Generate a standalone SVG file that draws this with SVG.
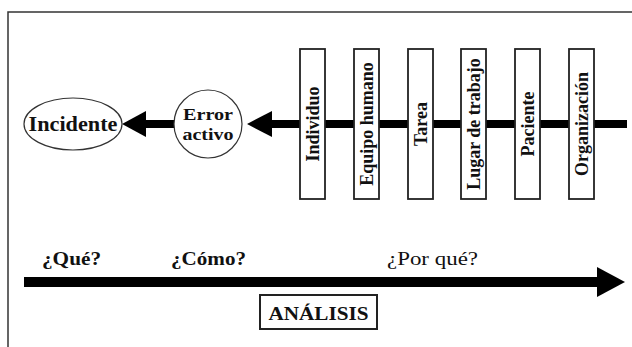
<svg xmlns="http://www.w3.org/2000/svg" width="632" height="347" viewBox="0 0 632 347">
<style>
.t{font-family:"Liberation Serif","Times New Roman",serif;font-weight:bold;fill:#111;}
.r{font-family:"Liberation Serif","Times New Roman",serif;font-weight:normal;fill:#111;}
.box{fill:#fff;stroke:#222;stroke-width:1.8;}
.shape{fill:#fff;stroke:#333;stroke-width:1.2;}
.shaft{stroke:#000;fill:none;}
.head{fill:#000;stroke:none;}
</style>
<rect x="0" y="0" width="632" height="347" fill="#fff"/>
<g id="frame">
<path d="M8 347 V12 H632" fill="none" stroke="#333" stroke-width="1.5"/>
</g>
<g id="connectors">
<line class="shaft" x1="266" y1="124" x2="627" y2="124" stroke-width="8"/>
<polygon class="head" points="247,124 272,111 272,137"/>
<line class="shaft" x1="140" y1="124" x2="174" y2="124" stroke-width="8"/>
<polygon class="head" points="122,124 146,111 146,137"/>
<line class="shaft" x1="24" y1="282" x2="602" y2="282" stroke-width="10"/>
<polygon class="head" points="625,282 597,267 597,297"/>
</g>
<g id="incidente">
<ellipse class="shape" cx="73" cy="124" rx="49" ry="26"/>
<text class="t" x="73" y="131" font-size="20" text-anchor="middle" textLength="89" lengthAdjust="spacingAndGlyphs">Incidente</text>
</g>
<g id="error-activo">
<circle class="shape" cx="208" cy="124" r="34"/>
<text class="t" x="208" y="120" font-size="17" text-anchor="middle" textLength="50" lengthAdjust="spacingAndGlyphs">Error</text>
<text class="t" x="208" y="140" font-size="17" text-anchor="middle" textLength="51" lengthAdjust="spacingAndGlyphs">activo</text>
</g>
<g id="individuo">
<rect class="box" x="300" y="49" width="25" height="150"/>
<text class="t" font-size="18" text-anchor="middle" transform="translate(318.5,124) rotate(-90)">Individuo</text>
</g>
<g id="equipo-humano">
<rect class="box" x="354" y="49" width="25" height="150"/>
<text class="t" font-size="18" text-anchor="middle" transform="translate(372.5,124) rotate(-90)">Equipo humano</text>
</g>
<g id="tarea">
<rect class="box" x="408" y="49" width="25" height="150"/>
<text class="t" font-size="18" text-anchor="middle" transform="translate(426.5,124) rotate(-90)">Tarea</text>
</g>
<g id="lugar-de-trabajo">
<rect class="box" x="461" y="49" width="25" height="150"/>
<text class="t" font-size="18" text-anchor="middle" transform="translate(479.5,124) rotate(-90)">Lugar de trabajo</text>
</g>
<g id="paciente">
<rect class="box" x="515" y="49" width="25" height="150"/>
<text class="t" font-size="18" text-anchor="middle" transform="translate(533.5,124) rotate(-90)">Paciente</text>
</g>
<g id="organizacion">
<rect class="box" x="569" y="49" width="25" height="150"/>
<text class="t" font-size="18" text-anchor="middle" transform="translate(587.5,124) rotate(-90)">Organización</text>
</g>
<g id="preguntas">
<text class="t" x="42" y="265" font-size="19" textLength="59" lengthAdjust="spacingAndGlyphs">¿Qué?</text>
<text class="t" x="171" y="265" font-size="19" textLength="75" lengthAdjust="spacingAndGlyphs">¿Cómo?</text>
<text class="r" x="387" y="265" font-size="19" textLength="91" lengthAdjust="spacingAndGlyphs">¿Por qué?</text>
</g>
<g id="analisis">
<rect x="260" y="295" width="117" height="34" fill="#fff" stroke="#222" stroke-width="2"/>
<text class="t" x="318.5" y="320" font-size="19" text-anchor="middle" textLength="100" lengthAdjust="spacingAndGlyphs">ANÁLISIS</text>
</g>
</svg>
